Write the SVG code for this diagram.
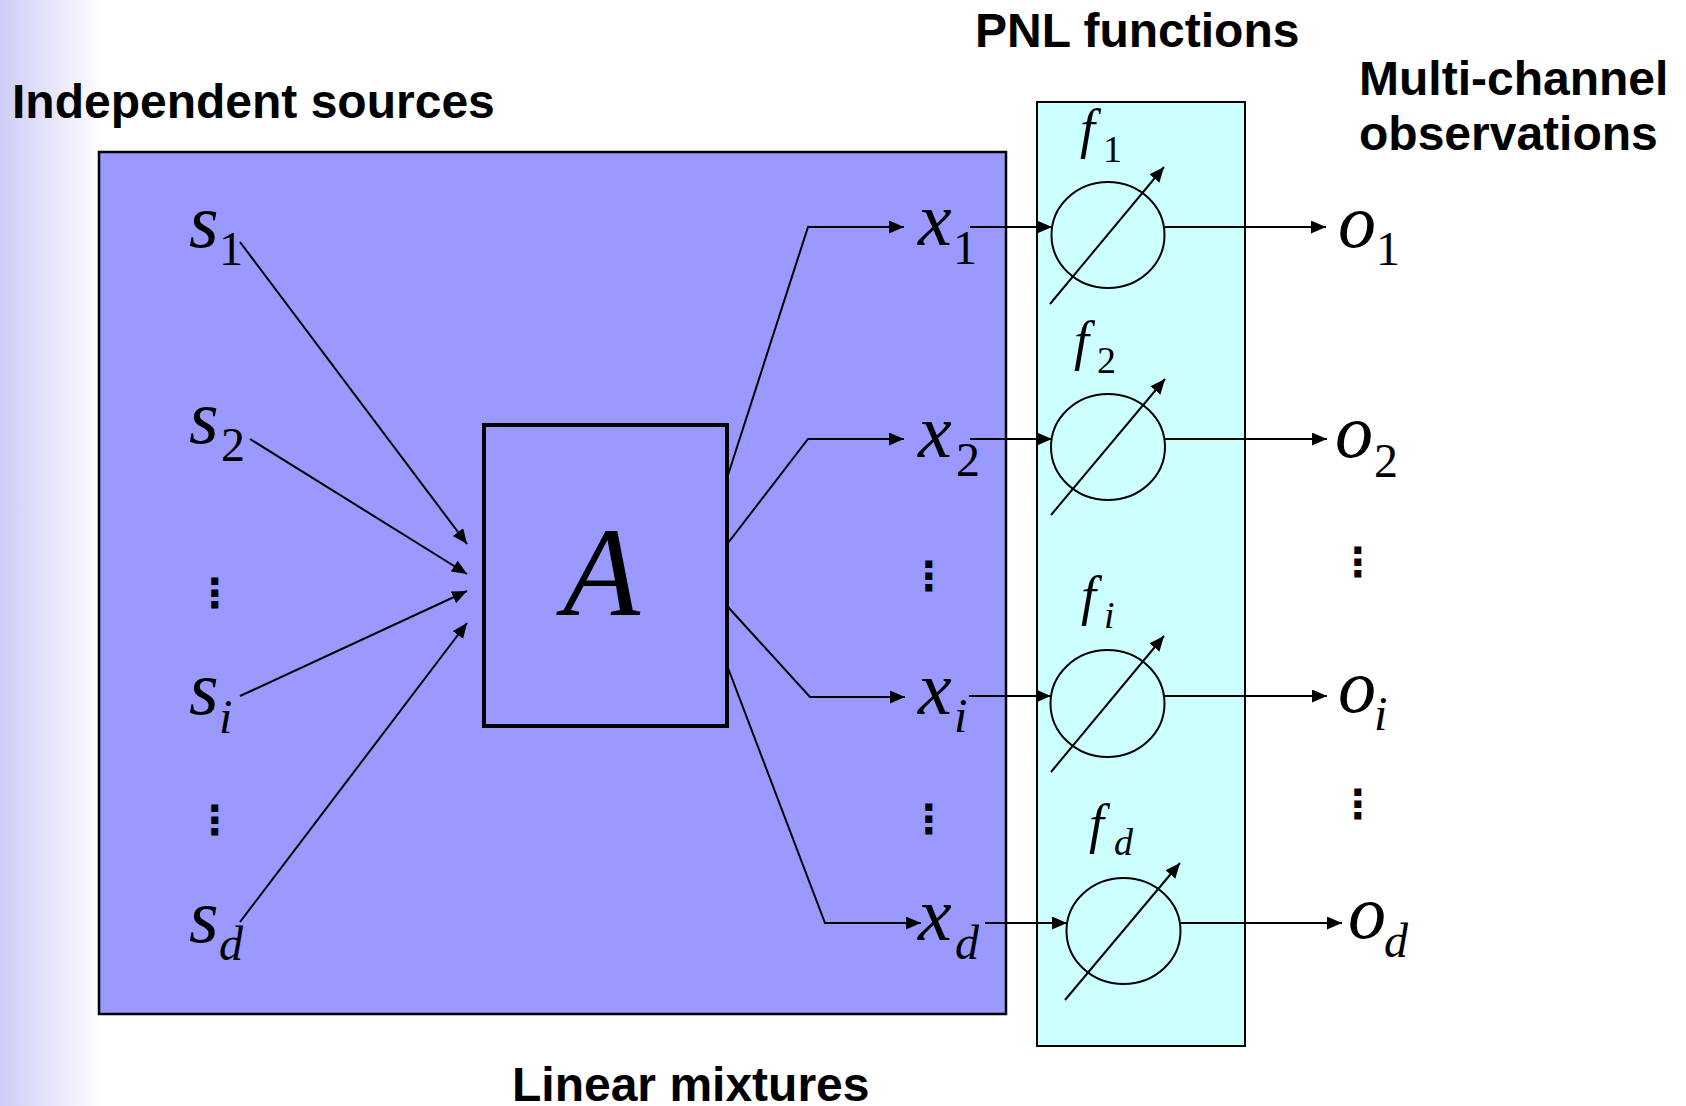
<svg xmlns="http://www.w3.org/2000/svg" width="1686" height="1106" viewBox="0 0 1686 1106">
<defs>
<linearGradient id="bg" x1="0" y1="0" x2="1" y2="0">
<stop offset="0" stop-color="#cdcdf6"/>
<stop offset="1" stop-color="#ffffff"/>
</linearGradient>
<marker id="ah" markerUnits="userSpaceOnUse" markerWidth="16" markerHeight="14" refX="15" refY="6.5" orient="auto">
<path d="M0,0 L15,6.5 L0,13 z" fill="#000"/>
</marker>
</defs>
<style>
.title{font-family:"Liberation Sans",Arial,sans-serif;font-weight:bold;font-size:48px;fill:#000}
.m{font-family:"Liberation Serif","Times New Roman",serif;font-style:italic;font-size:76px;fill:#000}
.sd{font-family:"Liberation Serif","Times New Roman",serif;font-size:48px;fill:#000}
.si{font-family:"Liberation Serif","Times New Roman",serif;font-style:italic;font-size:48px;fill:#000}
.f{font-family:"Liberation Serif","Times New Roman",serif;font-style:italic;font-size:54px;fill:#000}
.fs{font-family:"Liberation Serif","Times New Roman",serif;font-size:38px;fill:#000}
.fsi{font-family:"Liberation Serif","Times New Roman",serif;font-style:italic;font-size:38px;fill:#000}
.dots{font-family:"DejaVu Sans",sans-serif;font-weight:bold;font-size:40px;fill:#000;text-anchor:middle}
.ln{fill:none;stroke:#000;stroke-width:2}
.arr{fill:none;stroke:#000;stroke-width:2;marker-end:url(#ah)}
.circ{fill:none;stroke:#000;stroke-width:2}
</style>
<rect x="0" y="0" width="1686" height="1106" fill="#fff"/>
<rect x="0" y="0" width="105" height="1106" fill="url(#bg)"/>

<g id="titles">
<text class="title" x="12" y="118">Independent sources</text>
<text class="title" x="975" y="47">PNL functions</text>
<text class="title" x="1359" y="95">Multi-channel</text>
<text class="title" x="1359" y="150">observations</text>
<text class="title" x="512" y="1101">Linear mixtures</text>
</g>

<g id="mixing-region">
<rect x="99" y="152" width="907" height="862" fill="#9999ff" stroke="#000" stroke-width="2.5"/>
</g>
<g id="pnl-region">
<rect x="1037" y="102" width="208" height="944" fill="#ccffff" stroke="#000" stroke-width="2"/>
</g>

<g id="node-A">
<rect x="484" y="425" width="243" height="301" fill="none" stroke="#000" stroke-width="4"/>
<text class="m" x="563" y="615" style="font-size:126px">A</text>
</g>

<g id="sources">
<g id="s1"><text class="m" x="189" y="247">s</text><text class="sd" x="219" y="265">1</text></g>
<g id="s2"><text class="m" x="189" y="443">s</text><text class="sd" x="221" y="461">2</text></g>
<text class="dots" x="215" y="607">⋮</text>
<g id="si"><text class="m" x="189" y="714">s</text><text class="si" x="219" y="733">i</text></g>
<text class="dots" x="215" y="834">⋮</text>
<g id="sd"><text class="m" x="189" y="942">s</text><text class="si" x="219" y="960">d</text></g>
</g>

<g id="mixtures">
<g id="x1"><text class="m" x="918" y="245">x</text><text class="sd" x="953" y="264">1</text></g>
<g id="x2"><text class="m" x="918" y="457">x</text><text class="sd" x="956" y="476">2</text></g>
<text class="dots" x="929" y="590">⋮</text>
<g id="xi"><text class="m" x="918" y="714">x</text><text class="si" x="954" y="732">i</text></g>
<text class="dots" x="929" y="833">⋮</text>
<g id="xd"><text class="m" x="918" y="940">x</text><text class="si" x="955" y="959">d</text></g>
</g>

<g id="pnl-functions">
<g id="f1"><text class="f" x="1080" y="147">f</text><text class="fs" x="1103" y="162">1</text>
<ellipse class="circ" cx="1108" cy="235" rx="56.5" ry="53"/></g>
<g id="f2"><text class="f" x="1074" y="359">f</text><text class="fs" x="1097" y="373">2</text>
<ellipse class="circ" cx="1108" cy="447" rx="57" ry="53"/></g>
<g id="fi"><text class="f" x="1081" y="614">f</text><text class="fsi" x="1104" y="628">i</text>
<ellipse class="circ" cx="1107.5" cy="703.5" rx="57" ry="53.5"/></g>
<g id="fd"><text class="f" x="1089" y="842">f</text><text class="fsi" x="1114" y="855">d</text>
<ellipse class="circ" cx="1123.5" cy="931" rx="57" ry="53"/></g>
</g>

<g id="observations">
<g id="o1"><text class="m" x="1338" y="247">o</text><text class="sd" x="1376" y="265">1</text></g>
<g id="o2"><text class="m" x="1335" y="457">o</text><text class="sd" x="1374" y="477">2</text></g>
<text class="dots" x="1358" y="576">⋮</text>
<g id="oi"><text class="m" x="1338" y="712">o</text><text class="si" x="1374" y="730">i</text></g>
<text class="dots" x="1358" y="818">⋮</text>
<g id="od"><text class="m" x="1348" y="938">o</text><text class="si" x="1384" y="957">d</text></g>
</g>

<g id="connectors">
<path class="arr" d="M240,242 L467,544"/>
<path class="arr" d="M250,439 L467,574"/>
<path class="arr" d="M240,696 L467,591"/>
<path class="arr" d="M240,922 L467,623"/>
<path class="arr" d="M728,475 L808,227 L904,227"/>
<path class="arr" d="M728,543 L808,439 L904,439"/>
<path class="arr" d="M728,607 L810,697 L905,697"/>
<path class="arr" d="M728,668 L825,923 L921,923"/>
<path class="arr" d="M970,227 L1052,227"/>
<path class="arr" d="M970,439 L1052,439"/>
<path class="arr" d="M969,696 L1051,696"/>
<path class="arr" d="M985,923 L1067,923"/>
<path class="arr" d="M1165,227 L1326,227"/>
<path class="arr" d="M1165,439 L1327,439"/>
<path class="arr" d="M1164,696 L1327,696"/>
<path class="arr" d="M1180,923 L1342,923"/>
<path class="arr" d="M1050,304 L1164,167"/>
<path class="arr" d="M1051,515 L1165,379"/>
<path class="arr" d="M1051,772 L1164,636"/>
<path class="arr" d="M1065,1000 L1180,863"/>
</g>
</svg>
